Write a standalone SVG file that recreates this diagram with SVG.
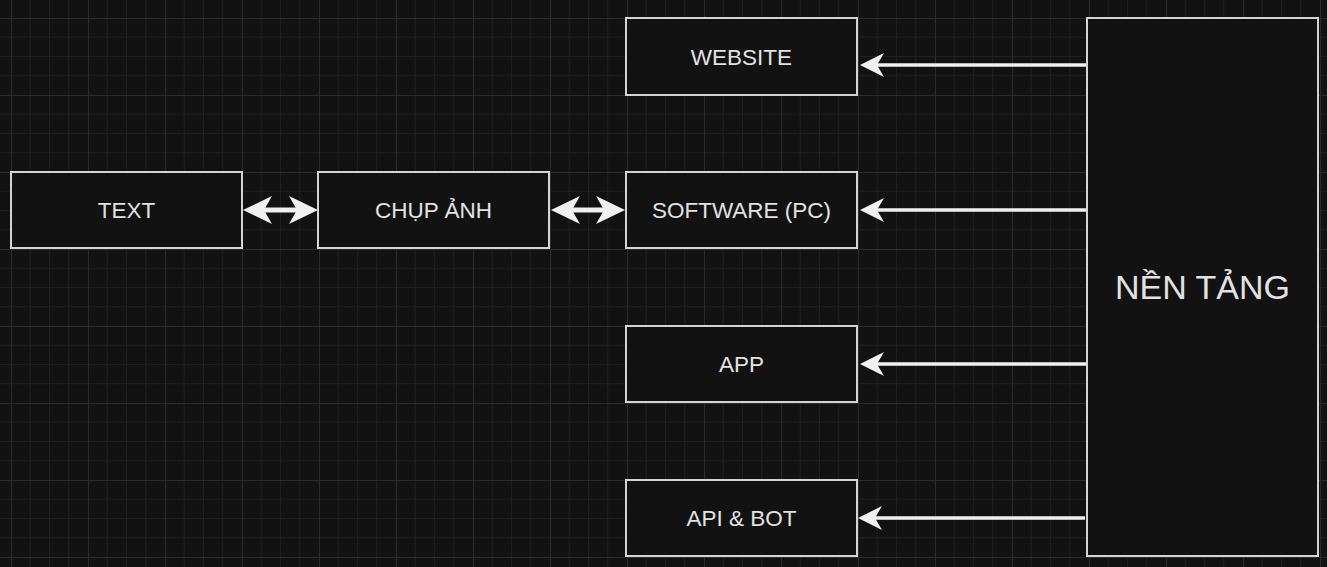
<svg xmlns="http://www.w3.org/2000/svg" width="1327" height="567" viewBox="0 0 1327 567">
  <defs>
    <pattern id="grid" x="11" y="18" width="77" height="77" patternUnits="userSpaceOnUse">
      <path d="M19.25,0V77M38.5,0V77M57.75,0V77M0,19.25H77M0,38.5H77M0,57.75H77" stroke="#1f1f1f" stroke-width="1" fill="none"/>
      <path d="M0.5,0V77M0,0.5H77" stroke="#2b2b2b" stroke-width="1" fill="none"/>
    </pattern>
    <marker id="arr" markerUnits="userSpaceOnUse" markerWidth="24" markerHeight="24" viewBox="0 0 24 24" refX="7" refY="12" orient="auto">
      <path d="M0,0L24,12L0,24L7,12Z" fill="#f0f0f0"/>
    </marker>
    <marker id="arr2" markerUnits="userSpaceOnUse" markerWidth="29" markerHeight="28" viewBox="0 0 29 28" refX="8" refY="14" orient="auto-start-reverse">
      <path d="M0,0L29,14L0,28L8,14Z" fill="#f0f0f0"/>
    </marker>
    <style>
      .box { fill: #121212; stroke: #d4d4d4; stroke-width: 2; }
      .lbl { font-family: "Liberation Sans", Arial, sans-serif; font-size: 22.5px; fill: #e2e2e2; text-anchor: middle; }
      .big { font-size: 34px; }
      .conn { stroke: #f0f0f0; stroke-width: 3.5; fill: none; marker-end: url(#arr); }
      .dbl { stroke: #f0f0f0; stroke-width: 5; fill: none; marker-start: url(#arr2); marker-end: url(#arr2); }
    </style>
  </defs>
  <rect width="1327" height="567" fill="#121212"/>
  <rect width="1327" height="567" fill="url(#grid)"/>

  <g id="connectors">
    <path class="conn" d="M1087,65H877"/>
    <path class="conn" d="M1087,210H877"/>
    <path class="conn" d="M1087,364H877"/>
    <path class="conn" d="M1085,518H875"/>
    <path class="dbl" d="M264,210H297"/>
    <path class="dbl" d="M572,210H604"/>
  </g>

  <g id="node-text">
    <rect class="box" x="11" y="172" width="231" height="76"/>
    <text class="lbl" x="126.5" y="218">TEXT</text>
  </g>
  <g id="node-chup-anh">
    <rect class="box" x="318" y="172" width="231" height="76"/>
    <text class="lbl" x="433.5" y="218">CHỤP ẢNH</text>
  </g>
  <g id="node-website">
    <rect class="box" x="626" y="18" width="231" height="77"/>
    <text class="lbl" x="741.5" y="64.5">WEBSITE</text>
  </g>
  <g id="node-software">
    <rect class="box" x="626" y="172" width="231" height="76"/>
    <text class="lbl" x="741.5" y="218">SOFTWARE (PC)</text>
  </g>
  <g id="node-app">
    <rect class="box" x="626" y="326" width="231" height="76"/>
    <text class="lbl" x="741.5" y="372">APP</text>
  </g>
  <g id="node-api">
    <rect class="box" x="626" y="480" width="231" height="76"/>
    <text class="lbl" x="741.5" y="526">API &amp; BOT</text>
  </g>
  <g id="node-nen-tang">
    <rect class="box" x="1087" y="18" width="231" height="538"/>
    <text class="lbl big" x="1202.5" y="299">NỀN TẢNG</text>
  </g>
</svg>
